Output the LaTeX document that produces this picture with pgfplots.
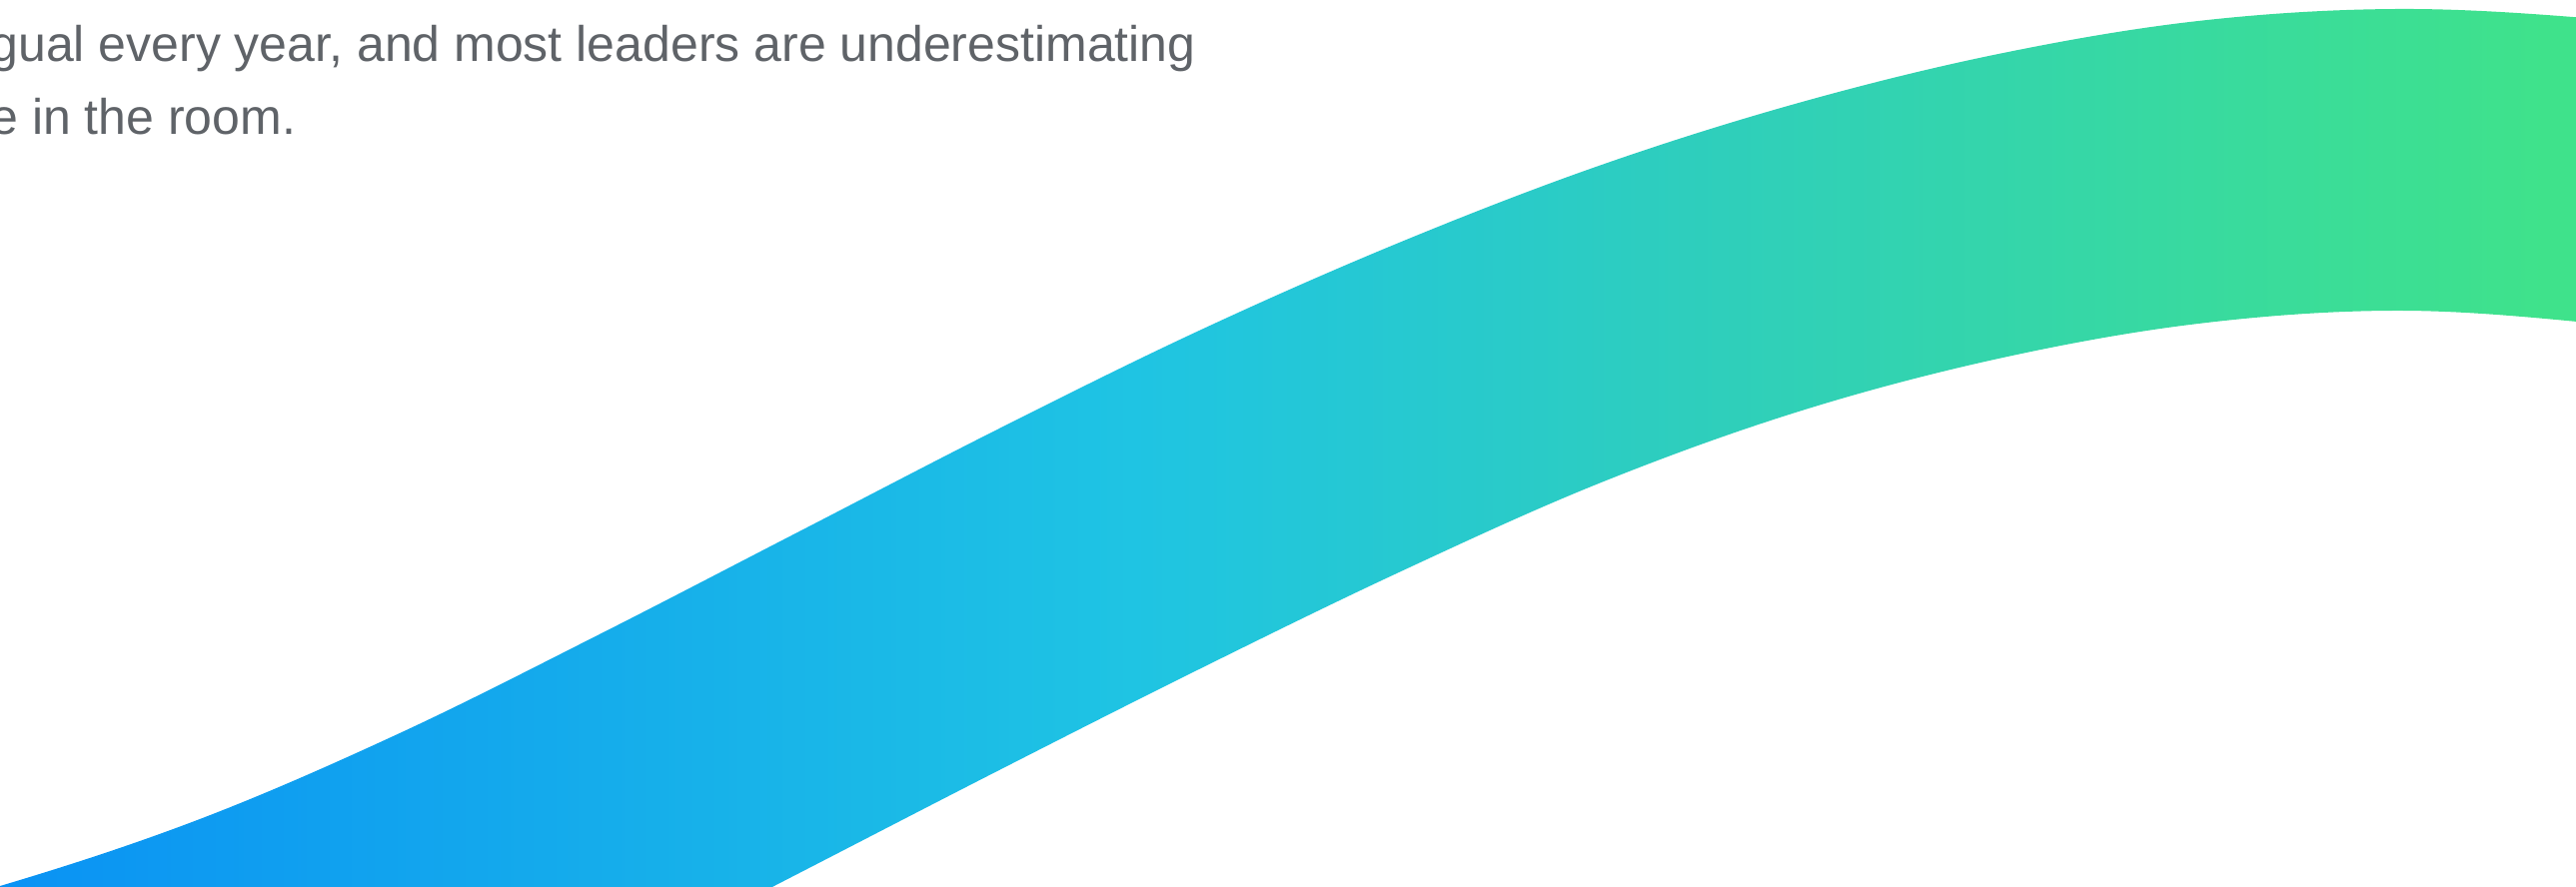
\documentclass[border=0pt]{standalone}
\usepackage{pgfplots}
\pgfplotsset{compat=1.18}
\usepackage{fontspec}
\setmainfont{Liberation Sans}
\definecolor{txtgray}{HTML}{5F6368}
\definecolor{rA}{HTML}{0A92F4}
\definecolor{rB}{HTML}{1FC4E3}
\definecolor{rC}{HTML}{2ECEBD}
\definecolor{rD}{HTML}{3FE28B}
\pgfdeclarehorizontalshading{ribbon}{100bp}{color(0bp)=(rA); color(28.3bp)=(rA); color(47bp)=(rB); color(56.1bp)=(rC); color(70.3bp)=(rD); color(100bp)=(rD)}
\begin{document}
\begin{tikzpicture}
\begin{axis}[name=ax, width=1289bp, height=444bp, scale only axis, hide axis,
  xmin=0, xmax=2578, ymin=0, ymax=888, clip=true]
\addplot[draw=none, shading=ribbon, smooth, tension=0.6] coordinates {
(-200,-51) (0,1) (200,68) (400,154) (600,253) (800,356) (1000,459) (1200,557)
(1400,645) (1600,722) (1800,785) (2000,834) (2200,867) (2400,879) (2600,869)
(2800,847)
(2800,539) (2600,564) (2400,577) (2200,564) (2000,529) (1800,476) (1600,404)
(1400,315) (1200,218) (1000,117) (800,14) (600,-89) (400,-190)
} -- cycle;
\node[anchor=base west, inner sep=0pt, text=txtgray, font=\fontsize{25bp}{30bp}\selectfont] at (axis cs:-10,826) {gual every year, and most leaders are underestimating};
\node[anchor=base west, inner sep=0pt, text=txtgray, font=\fontsize{25bp}{30bp}\selectfont] at (axis cs:-10,753) {e in the room.};
\end{axis}
\pgfresetboundingbox
\path[use as bounding box] (ax.south west) rectangle (ax.north east);
\end{tikzpicture}
\end{document}
